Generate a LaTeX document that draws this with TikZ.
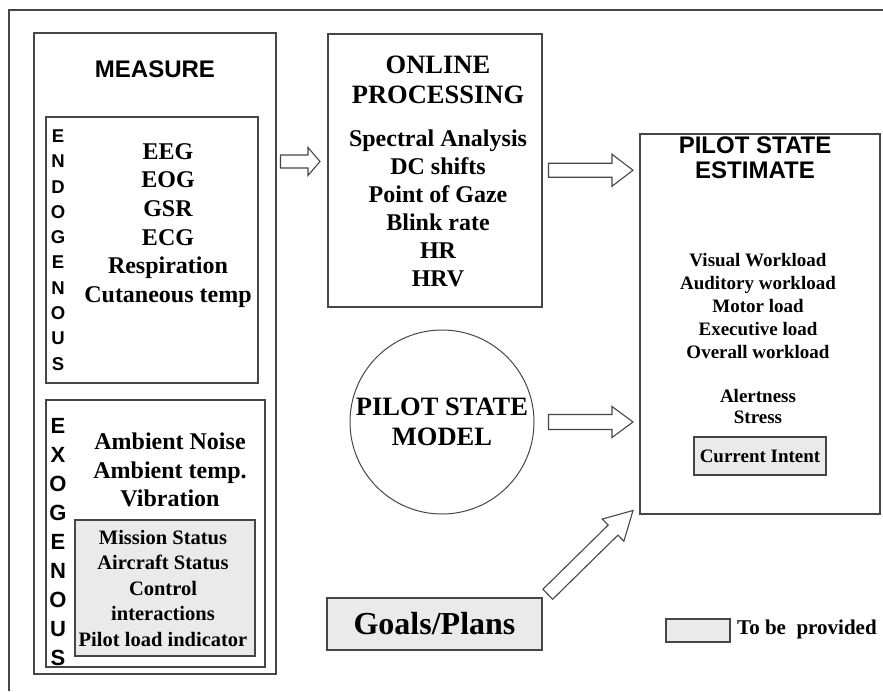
\documentclass[tikz,border=0pt]{standalone}
\usepackage{fontspec}
\setmainfont{Liberation Serif}
\setsansfont{Liberation Sans}
\usepackage{tikz}
\usetikzlibrary{calc,positioning}
\definecolor{boxline}{RGB}{70,70,70}
\definecolor{providedgray}{RGB}{234,234,234}
\newcommand{\fsz}[2]{\fontsize{#1}{#2}\selectfont}
% tail, tip, shaft half width, head half width, head length
\newcommand{\blockarrow}[5]{%
  \coordinate (ba-h) at ($(#2)!#5pt!(#1)$);
  \draw[hollowarrow] ($(#1)!#3pt!90:(#2)$) -- ($(ba-h)!#3pt!90:(#2)$)
    -- ($(ba-h)!#4pt!90:(#2)$) -- (#2) -- ($(ba-h)!#4pt!-90:(#2)$)
    -- ($(ba-h)!#3pt!-90:(#2)$) -- ($(#1)!#3pt!-90:(#2)$) -- cycle;}

\begin{document}
\begin{tikzpicture}[x=1pt,y=-1pt,
    box/.style={draw=boxline, line width=1.5pt, inner sep=0pt, anchor=north west},
    given/.style={box, fill=providedgray},
    lbl/.style={align=center, inner sep=0pt},
    hollowarrow/.style={draw=boxline, line width=1.1pt, fill=white, line join=miter}]
    \useasboundingbox (0,0) rectangle (883,691);
    \draw[line width=2pt, boxline] (883,10) -- (9,10) -- (9,691);

    % measure column
    \node[box, minimum width=242, minimum height=641] (measure) at (33,32) {};
    \node[lbl, font=\sffamily\bfseries\fsz{24}{28}] (measure-title) at (155,69) {MEASURE};
    \node[box, minimum width=212, minimum height=266] (endo) at (45,116) {};
    \node[lbl, font=\sffamily\bfseries\fsz{18.5}{25.3}] (endo-letters) at (58,250) {E\\N\\D\\O\\G\\E\\N\\O\\U\\S};
    \node[lbl, font=\bfseries\fsz{24}{28.6}] (endo-items) at (168,225.5) {EEG\\EOG\\GSR\\ECG\\Respiration\\Cutaneous temp};
    \node[box, minimum width=219, minimum height=267] (exo) at (45,399) {};
    \node[given, minimum width=180, minimum height=136] (exo-given) at (74,519) {};
    \node[lbl, font=\sffamily\bfseries\fsz{22}{28.9}] (exo-letters) at (58,542) {E\\X\\O\\G\\E\\N\\O\\U\\S};
    \node[lbl, font=\bfseries\fsz{24}{28.5}] (exo-items) at (170,470) {Ambient Noise\\Ambient temp.\\Vibration};
    \node[lbl, font=\bfseries\fsz{20.5}{25.5}] (exo-given-items) at (163,588) {Mission Status\\Aircraft Status\\Control\\interactions\\Pilot load indicator};

    % processing and model
    \node[box, minimum width=214, minimum height=273] (online) at (327,33) {};
    \node[lbl, font=\bfseries\fsz{26.5}{30}] (online-title) at (438,80) {ONLINE\\PROCESSING};
    \node[lbl, font=\bfseries\fsz{24}{28}] (online-items) at (438,208) {Spectral Analysis\\DC shifts\\Point of Gaze\\Blink rate\\HR\\HRV};
    \node[circle, draw=boxline, line width=1pt, minimum size=184, inner sep=0pt, align=center,
        font=\bfseries\fsz{26.5}{30}] (model) at (442,422) {PILOT STATE\\MODEL};
    \node[given, anchor=center, minimum width=215, minimum height=52,
        font=\bfseries\fsz{32}{36}] (goals) at (434.5,624) {Goals/Plans};

    % estimate
    \node[box, minimum width=240, minimum height=380] (estimate) at (639,133) {};
    \node[lbl, font=\sffamily\bfseries\fsz{24}{25}] (estimate-title) at (755,157.5) {PILOT STATE\\ESTIMATE};
    \node[lbl, font=\bfseries\fsz{19}{23}] (workload) at (758,306) {Visual Workload\\Auditory workload\\Motor load\\Executive load\\Overall workload};
    \node[lbl, font=\bfseries\fsz{19}{21}] (alertness) at (758,406.5) {Alertness\\Stress};
    \node[given, anchor=center, minimum width=132, minimum height=38,
        font=\bfseries\fsz{19}{22}] (intent) at (760,456) {Current Intent};

    % legend
    \node[given, anchor=center, minimum width=64, minimum height=23] (legend-box) at (698,630.5) {};
    \node[lbl, anchor=west, font=\bfseries\fsz{21}{24}] (legend-text) at (737,629) {To be\ \ provided};

    % arrows
    \coordinate (mo-a) at ($(measure.north east)+(4,129.5)$);
    \coordinate (mo-b) at ($(online.north west)+(-7,128.5)$);
    \coordinate (oe-a) at ($(online.east)+(6,0)$);
    \coordinate (oe-b) at ($(estimate.west |- online.east)+(-6,0)$);
    \coordinate (me-a) at ($(model.east)+(14,0)$);
    \coordinate (me-b) at ($(estimate.west |- model.east)+(-6,0)$);
    \coordinate (ge-a) at ($(goals.north east)+(5,-3)$);
    \coordinate (ge-b) at ($(estimate.south west)+(-6,-4)$);
    \blockarrow{mo-a}{mo-b}{6.5}{14}{12}
    \blockarrow{oe-a}{oe-b}{7}{16}{21}
    \blockarrow{me-a}{me-b}{7.5}{15.5}{21}
    \blockarrow{ge-a}{ge-b}{7}{15.5}{28}
\end{tikzpicture}
\end{document}
